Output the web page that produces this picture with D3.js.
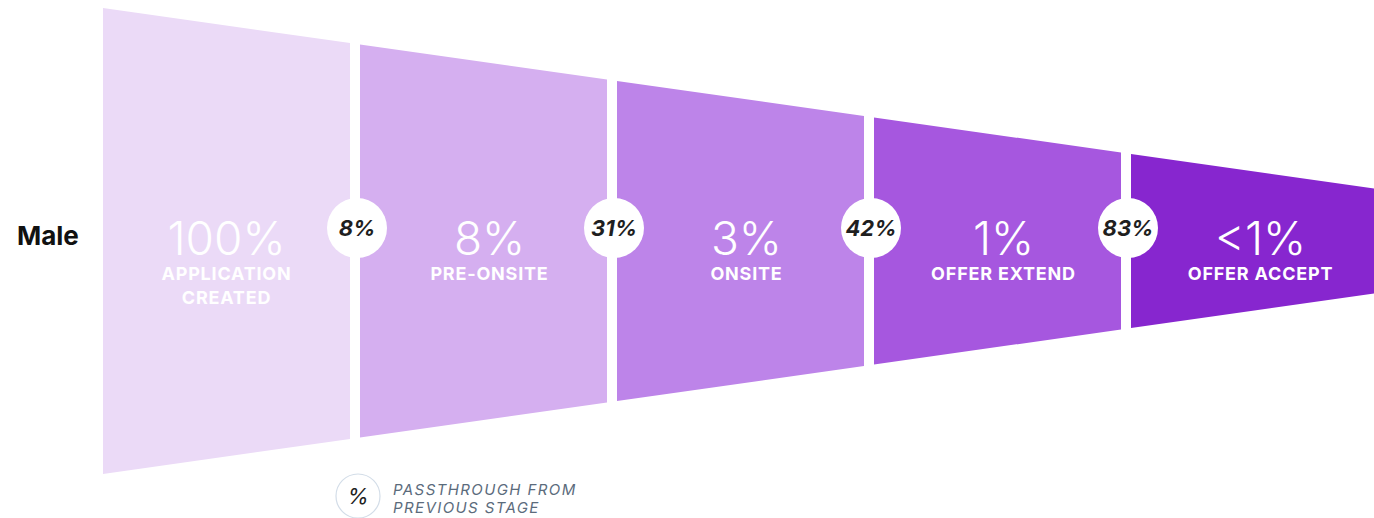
<!DOCTYPE html>
<html>
<head>
<meta charset="utf-8">
<script src="https://cdn.jsdelivr.net/npm/d3@7"></script>
<style>
  body { margin: 0; background: #fff; }
  svg { display: block; font-family: Inter, "Noto Sans", sans-serif; }
</style>
</head>
<body>
<svg id="chart" width="1374" height="518"></svg>
<script>
// chart data
const group = "Male";
const stages = ["APPLICATION|CREATED", "PRE-ONSITE", "ONSITE", "OFFER EXTEND", "OFFER ACCEPT"];
const stageShare = ["100%", "8%", "3%", "1%", "<1%"];
const passthrough = ["8%", "31%", "42%", "83%"];
const stageColors = ["#ebdaf7", "#d5aff0", "#bd84e9", "#a657df", "#8726cf"];

const legendText = ["PASSTHROUGH FROM", "PREVIOUS STAGE"];

// layout
const funnelLeft = 103, stageStep = 257, gap = 10;
const funnelRight = funnelLeft + stageStep * stages.length - gap;
const midY = 241;
const svg = d3.select("#chart");

const x = d3.scaleBand()
    .domain(d3.range(stages.length))
    .range([funnelLeft, funnelRight])
    .paddingInner(gap / stageStep)
    .paddingOuter(0);

// half height of the funnel tapers linearly along x
const half = d3.scaleLinear()
    .domain([funnelLeft, funnelRight])
    .range([233, 52]);

// label centre, nudged right of the bubble for later stages
const labelX = i => x(i) + x.bandwidth() / 2 + (i ? 6 : 0);

const gStage = svg.append("g").selectAll("g")
    .data(stages)
    .join("g");

gStage.append("path")
    .attr("fill", (d, i) => stageColors[i])
    .attr("d", (d, i) => {
        const x0 = x(i), x1 = x(i) + x.bandwidth();
        return `M${x0},${midY - half(x0)} L${x1},${midY - half(x1)} L${x1},${midY + half(x1)} L${x0},${midY + half(x0)} Z`;
    });

// big share number
gStage.append("text")
    .attr("x", (d, i) => labelX(i))
    .attr("y", 255)
    .attr("text-anchor", "middle")
    .attr("fill", "#fff")
    .attr("font-size", 46)
    .attr("font-weight", 300)
    .text((d, i) => stageShare[i]);

// stage name (may break into two lines)
gStage.append("text")
    .attr("text-anchor", "middle")
    .attr("fill", "#fff")
    .attr("font-size", 18)
    .attr("font-weight", 700)
    .attr("letter-spacing", 0.8)
    .selectAll("tspan")
    .data((d, i) => d.split("|").map(s => ({s, i})))
    .join("tspan")
    .attr("x", d => labelX(d.i))
    .attr("y", (d, j) => 280 + j * 24)
    .text(d => d.s);

// passthrough bubbles in the gaps
const gPass = svg.append("g").selectAll("g")
    .data(passthrough)
    .join("g")
    .attr("transform", (d, i) => `translate(${x(i + 1) - gap / 2 + 2},228)`);

gPass.append("circle").attr("r", 30).attr("fill", "#fff");
gPass.append("text")
    .attr("text-anchor", "middle")
    .attr("dy", "0.36em")
    .attr("font-size", 22)
    .attr("font-weight", 700)
    .attr("font-style", "italic")
    .attr("fill", "#1f1f1f")
    .text(d => d);

// group label
svg.append("text")
    .attr("x", 17)
    .attr("y", 245)
    .attr("font-size", 26)
    .attr("font-weight", 700)
    .attr("fill", "#111")
    .text(group);

// legend
const gLegend = svg.append("g").attr("transform", "translate(358,496)");
gLegend.append("circle")
    .attr("r", 22)
    .attr("fill", "#fff")
    .attr("stroke", "#d3dde8")
    .attr("stroke-width", 1.2);
gLegend.append("text")
    .attr("text-anchor", "middle")
    .attr("dy", "0.36em")
    .attr("font-size", 22)
    .attr("font-style", "italic")
    .attr("fill", "#1f1f1f")
    .text("%");
gLegend.append("text")
    .attr("font-size", 15)
    .attr("font-style", "italic")
    .attr("letter-spacing", 1.4)
    .attr("fill", "#5b6b7c")
    .selectAll("tspan")
    .data(legendText)
    .join("tspan")
    .attr("x", 35)
    .attr("y", (d, i) => -1 + i * 18)
    .text(d => d);
</script>
</body>
</html>
